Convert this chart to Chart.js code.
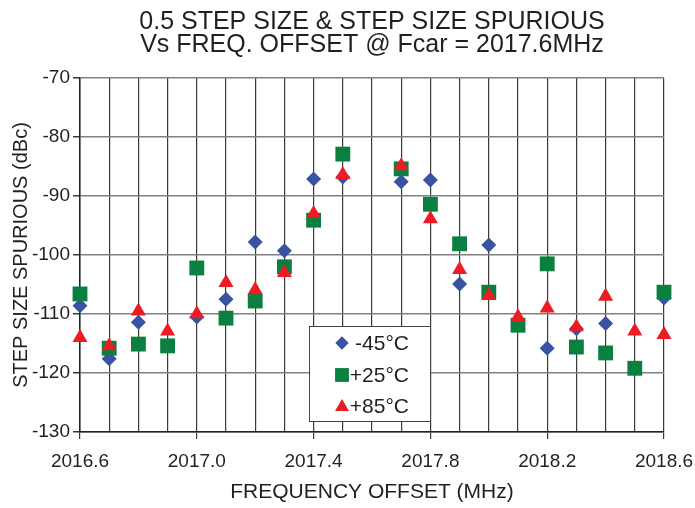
<!DOCTYPE html>
<html>
<head>
    <title>Step Size Spurious vs Freq. Offset</title>
    <script src="https://cdn.jsdelivr.net/npm/chart.js"></script>
    <style>
        body { margin: 0; background: #fff; }
        #wrap { width: 695px; height: 508px; }
    </style>
</head>
<body>
    <div id="wrap">
        <canvas id="spurChart" width="695" height="508"></canvas>
    </div>

    <script>
        // frequency offset (MHz), one entry per grid column
        const freqs = [2016.6, 2016.7, 2016.8, 2016.9, 2017.0, 2017.1, 2017.2, 2017.3, 2017.4, 2017.5, 2017.6,
                       2017.7, 2017.8, 2017.9, 2018.0, 2018.1, 2018.2, 2018.3, 2018.4, 2018.5, 2018.6];

        // spurious level (dBc) per temperature, null = no point visible
        const minus45 = [-108.6, -117.6, -111.4, null, -110.5, -107.5, -97.8, -99.3, -87.1, -86.8, null,
                         -87.6, -87.3, -104.9, -98.3, null, -115.8, -112.5, -111.6, null, -107.3];
        const plus25 = [-106.6, -115.8, -115.1, -115.4, -102.2, -110.7, -107.8, -102.0, -94.1, -82.9, null,
                        -85.4, -91.4, -98.1, -106.3, -111.9, -101.5, -115.6, -116.6, -119.2, -106.3];
        const plus85 = [-114.0, -115.4, -109.5, -112.9, -110.0, -104.7, -105.9, -103.0, -93.0, -86.4, null,
                        -84.9, -93.9, -102.5, -106.9, -110.5, -109.0, -112.2, -107.0, -112.9, -113.5];

        const seriesLabels = ['-45°C', '+25°C', '+85°C'];
        const xLabelTicks = [2016.6, 2017.0, 2017.4, 2017.8, 2018.2, 2018.6];
        const yMin = -130, yMax = -70, yStep = 10;

        const FONT = "'Liberation Sans', Arial, Helvetica, sans-serif";
        const TEXT = '#231f20';

        function toPoints(vals) {
            return freqs.map((f, i) => ({ x: f, y: vals[i] }));
        }

        function isLabelTick(v) {
            return xLabelTicks.some(t => Math.abs(t - v) < 0.001);
        }

        const colors = ['#3953a4', '#0b7f40', '#ed1c24'];
        const styles = ['rectRot', 'rect', 'triangle'];
        const radii = [7.5, 10.5, 8.7];

        // legend box drawn inside the plot, like the original
        const boxLegend = {
            id: 'boxLegend',
            afterDatasetsDraw(chart) {
                const ctx = chart.ctx;
                const bx = 309, by = 326, bw = 121, bh = 95;
                ctx.save();
                ctx.fillStyle = '#fff';
                ctx.fillRect(bx, by, bw, bh);
                ctx.strokeStyle = '#444';
                ctx.lineWidth = 1;
                ctx.strokeRect(bx + 0.5, by + 0.5, bw, bh);
                const rows = [343, 375, 406];
                const legendRadii = [6.5, 9.5, 7.8];
                rows.forEach((ry, i) => {
                    ctx.fillStyle = colors[i];
                    Chart.helpers.drawPoint(ctx, {
                        pointStyle: styles[i], radius: legendRadii[i], rotation: 0, borderWidth: 0
                    }, 342, i === 2 ? ry + 1 : ry);
                    ctx.fill();
                    ctx.fillStyle = TEXT;
                    ctx.font = '21px ' + FONT;
                    ctx.textAlign = 'right';
                    ctx.textBaseline = 'middle';
                    ctx.fillText(seriesLabels[i], 409, ry + 1);
                });
                ctx.restore();
            }
        };

        const datasets = [minus45, plus25, plus85].map((vals, i) => ({
            label: seriesLabels[i],
            data: toPoints(vals),
            pointStyle: styles[i],
            pointRadius: radii[i],
            pointBackgroundColor: colors[i],
            pointBorderColor: colors[i],
            pointBorderWidth: 0,
            showLine: false,
            clip: false,
            order: 3 - i
        }));

        new Chart(document.getElementById('spurChart'), {
            type: 'scatter',
            data: { datasets: datasets },
            plugins: [boxLegend],
            options: {
                responsive: false,
                animation: false,
                devicePixelRatio: 1,
                layout: { padding: { left: 0, right: 31, top: 0, bottom: 0 } },
                plugins: {
                    legend: { display: false },
                    tooltip: { enabled: false },
                    title: {
                        display: true,
                        fullSize: false,
                        text: ['0.5 STEP SIZE & STEP SIZE SPURIOUS', 'Vs FREQ. OFFSET @ Fcar = 2017.6MHz'],
                        color: TEXT,
                        font: { family: FONT, size: 25, weight: 'normal', lineHeight: 0.92 },
                        padding: { top: 11, bottom: 21 }
                    }
                },
                scales: {
                    x: {
                        type: 'linear',
                        min: 2016.6,
                        max: 2018.6,
                        afterFit(scale) {
                            scale.height = 76;
                            // end labels may hang over the edges, as in the original
                            scale.paddingLeft = 0;
                            scale.paddingRight = 0;
                        },
                        ticks: {
                            stepSize: 0.1,
                            autoSkip: false,
                            maxRotation: 0,
                            padding: 11,
                            color: TEXT,
                            font: { family: FONT, size: 19 },
                            callback: v => isLabelTick(v) ? v.toFixed(1) : ''
                        },
                        grid: {
                            color: '#3a3a3a',
                            lineWidth: 1.2,
                            tickLength: 7,
                            tickColor: c => (c.tick && isLabelTick(c.tick.value)) ? '#3a3a3a' : 'rgba(0,0,0,0)'
                        },
                        border: { color: '#222', width: 1.5 },
                        title: {
                            display: true,
                            text: 'FREQUENCY OFFSET (MHz)',
                            color: TEXT,
                            font: { family: FONT, size: 21 },
                            padding: { top: 0, bottom: 3 }
                        }
                    },
                    y: {
                        min: yMin,
                        max: yMax,
                        afterFit(scale) { scale.width = 80; },
                        ticks: {
                            stepSize: yStep,
                            padding: 3,
                            color: TEXT,
                            font: { family: FONT, size: 19 }
                        },
                        grid: {
                            color: '#808080',
                            lineWidth: 1.5,
                            tickLength: 7,
                            tickColor: '#3a3a3a'
                        },
                        border: { color: '#222', width: 1.5 },
                        title: {
                            display: true,
                            text: 'STEP SIZE SPURIOUS (dBc)',
                            color: TEXT,
                            font: { family: FONT, size: 20 },
                            padding: { top: 9, bottom: 0 }
                        }
                    }
                }
            }
        });
    </script>
</body>
</html>
